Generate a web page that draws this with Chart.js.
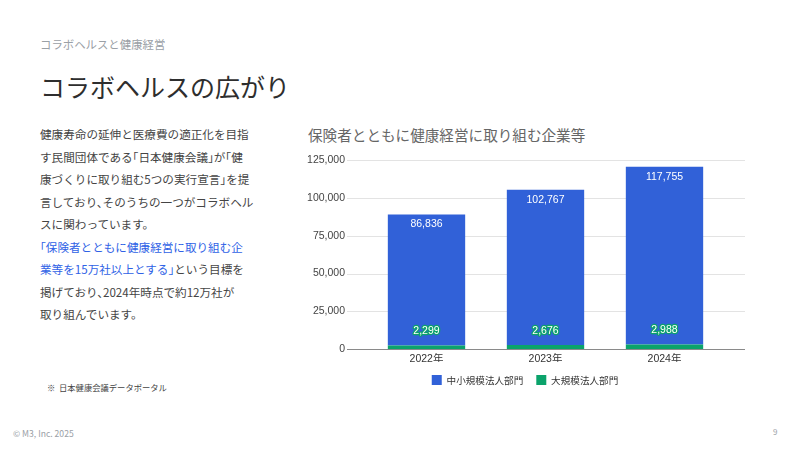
<!DOCTYPE html>
<html><head><meta charset="utf-8">
<script src="https://cdn.jsdelivr.net/npm/chart.js@4.4.1/dist/chart.umd.min.js"></script>
<style>
html,body{margin:0;padding:0;background:#fff;}
body{width:800px;height:450px;position:relative;overflow:hidden;font-family:"Noto Sans CJK JP","Noto Sans",sans-serif;}
.abs{position:absolute;white-space:nowrap;}
#sub{left:40px;top:36px;font-size:11.4px;color:#9aa0a6;line-height:16px;}
#title{left:40px;top:70px;font-size:25px;color:#2e2e2e;line-height:32px;}
#body{left:40px;top:123px;font-size:11.6px;color:#444;line-height:22.5px;font-feature-settings:"halt";}
#body .b{color:#2f62e6;}
#ctitle{left:308px;top:125px;font-size:14.6px;color:#666;line-height:20px;}
#note{left:47px;top:381px;font-size:8.3px;color:#444;line-height:12px;}
#copy{left:13px;top:427px;font-size:8.6px;color:#9aa0a6;line-height:12px;}
#page{left:773px;top:426px;font-size:8px;color:#9aa0a6;line-height:12px;}
#wrap{position:absolute;left:280px;top:132px;width:490px;height:268px;}
</style></head>
<body>
<div id="sub" class="abs">コラボヘルスと健康経営</div>
<div id="title" class="abs">コラボヘルスの広がり</div>
<div id="body" class="abs">
<div>健康寿命の延伸と医療費の適正化を目指</div>
<div>す民間団体である「日本健康会議」が「健</div>
<div>康づくりに取り組む5つの実行宣言」を提</div>
<div>言しており、そのうちの一つがコラボヘル</div>
<div>スに関わっています。</div>
<div class="b">「保険者とともに健康経営に取り組む企</div>
<div><span class="b">業等を15万社以上とする」</span>という目標を</div>
<div>掲げており、2024年時点で約12万社が</div>
<div>取り組んでいます。</div>
</div>
<div id="ctitle" class="abs">保険者とともに健康経営に取り組む企業等</div>
<div id="note" class="abs">※&nbsp; 日本健康会議データポータル</div>
<div id="copy" class="abs">© M3, Inc. 2025</div>
<div id="page" class="abs">9</div>
<div id="wrap"><canvas id="c"></canvas></div>
<script>
const categories = ['2022年', '2023年', '2024年'];
const smallMidCorp = [86836, 102767, 117755];
const largeCorp = [2299, 2676, 2988];
const seriesNames = ['中小規模法人部門', '大規模法人部門'];
const yTicksMax = 125000;
const yTicksStep = 25000;

const BLUE = '#3161d8';
const GREEN = '#0ba36b';
const FONT = "'Liberation Sans', 'Noto Sans CJK JP', sans-serif";

const gridPlugin = {
  id: 'extGrid',
  beforeDatasetsDraw(chart) {
    const {ctx, chartArea, scales} = chart;
    const y = scales.y;
    ctx.save();
    y.ticks.forEach((t) => {
      const py = Math.round(y.getPixelForValue(t.value)) + 0.5;
      ctx.beginPath();
      ctx.strokeStyle = t.value === 0 ? '#8a8a8a' : '#e3e3e3';
      ctx.lineWidth = 1;
      ctx.moveTo(chartArea.left - 20, py);
      ctx.lineTo(chartArea.right + 21, py);
      ctx.stroke();
    });
    ctx.restore();
  }
};

const labelPlugin = {
  id: 'barLabels',
  afterDatasetsDraw(chart) {
    const {ctx} = chart;
    ctx.save();
    ctx.font = "10.5px " + FONT;
    ctx.textAlign = 'center';
    ctx.textBaseline = 'middle';
    chart.data.datasets.forEach((ds, di) => {
      const meta = chart.getDatasetMeta(di);
      meta.data.forEach((el, i) => {
        const txt = ds.data[i].toLocaleString('en-US');
        if (ds.label === seriesNames[0]) {
          ctx.fillStyle = '#ffffff';
          ctx.fillText(txt, el.x, el.y + 10);
        } else {
          const py = el.y - 14;
          ctx.lineWidth = 2.5;
          ctx.strokeStyle = GREEN;
          ctx.lineJoin = 'round';
          ctx.strokeText(txt, el.x, py);
          ctx.fillStyle = '#ffffff';
          ctx.fillText(txt, el.x, py);
        }
      });
    });
    ctx.restore();
  }
};

new Chart(document.getElementById('c'), {
  type: 'bar',
  data: {
    labels: categories,
    datasets: [
      {label: seriesNames[1], data: largeCorp, backgroundColor: GREEN, borderWidth: 0},
      {label: seriesNames[0], data: smallMidCorp, backgroundColor: BLUE, borderWidth: 0}
    ]
  },
  options: {
    responsive: true,
    maintainAspectRatio: false,
    animation: false,
    layout: {padding: {left: 0, right: 0, top: 9, bottom: 5}},
    datasets: {bar: {categoryPercentage: 1, barPercentage: 0.65}},
    scales: {
      x: {
        stacked: true,
        grid: {display: false, drawTicks: false},
        border: {display: false},
        ticks: {color: '#333', font: {size: 10.5, family: FONT}, padding: 4},
        afterFit(s) { s.height = 13; }
      },
      y: {
        stacked: true,
        min: 0, max: yTicksMax,
        grid: {display: false, drawTicks: false},
        border: {display: false},
        ticks: {stepSize: yTicksStep, color: '#444', font: {size: 10.5, family: FONT}, padding: 22,
          callback: (v) => v.toLocaleString('en-US')},
        afterFit(s) { s.width = 87; }
      },
      yR: {
        position: 'right',
        display: true,
        grid: {display: false, drawTicks: false},
        border: {display: false},
        ticks: {display: false},
        afterFit(s) { s.width = 46; }
      }
    },
    plugins: {
      legend: {
        position: 'bottom',
        reverse: true,
        labels: {boxWidth: 10, boxHeight: 10, padding: 13, color: '#333',
          font: {size: 9.6, family: "'Noto Sans CJK JP', sans-serif"}}
      },
      tooltip: {enabled: false}
    }
  },
  plugins: [gridPlugin, labelPlugin]
});
</script>
</body></html>
